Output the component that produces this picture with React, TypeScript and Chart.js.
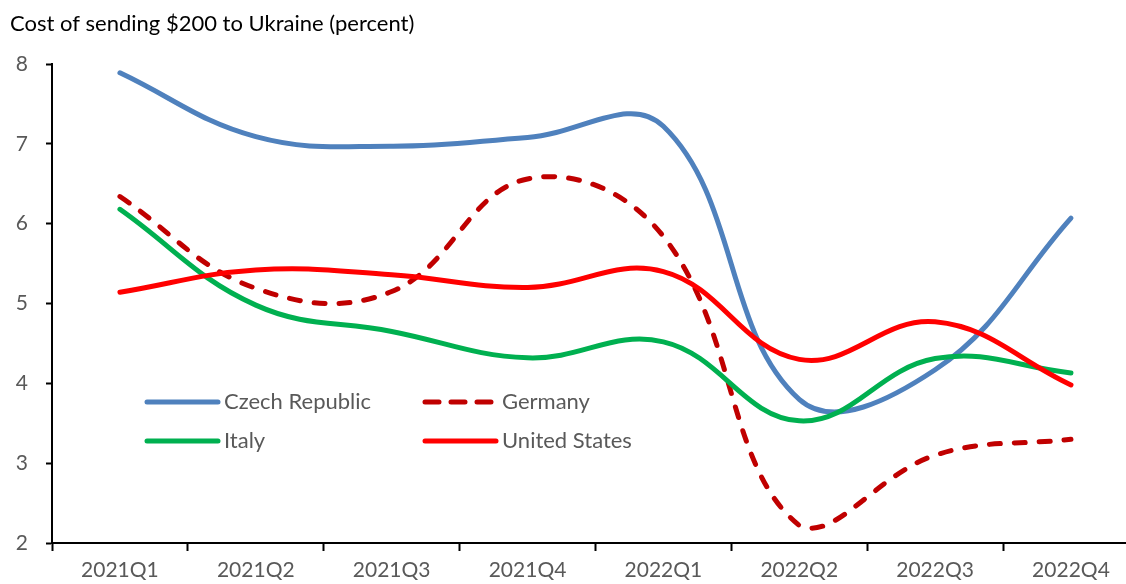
import React, { useEffect, useRef } from 'react';
import { Chart, registerables } from 'chart.js';

Chart.register(...registerables);

const title = 'Cost of sending $200 to Ukraine (percent)';
const categories = ['2021Q1', '2021Q2', '2021Q3', '2021Q4', '2022Q1', '2022Q2', '2022Q3', '2022Q4'];
const czechRepublic = [7.89, 7.09, 6.97, 7.08, 7.22, 3.8, 4.17, 6.07];
const germany = [6.34, 5.19, 5.15, 6.56, 5.84, 2.22, 3.1, 3.3];
const italy = [6.18, 4.98, 4.65, 4.32, 4.52, 3.53, 4.31, 4.13];
const unitedStates = [5.14, 5.42, 5.36, 5.2, 5.4, 4.3, 4.77, 3.98];
const yTicks = [2, 3, 4, 5, 6, 7, 8];

const FONT = 'Lato';
const TEXT_GREY = '#595959';

const toPoints = (vals: number[]) => categories.map((_, i) => ({ x: i, y: vals[i] }));

const overlayPlugin = {
  id: 'overlay',
  afterDraw(chart: any) {
    const ctx = chart.ctx;
    const area = chart.chartArea;
    ctx.save();
    // title
    ctx.fillStyle = '#000';
    ctx.font = `22px ${FONT}`;
    ctx.textBaseline = 'alphabetic';
    ctx.textAlign = 'left';
    ctx.fillText(title, 10, 31);
    // legend (2 columns inside plot)
    const colX = [area.left + 95, area.left + 373];
    const rowY = [402, 441];
    chart.data.datasets.forEach((ds: any, i: number) => {
      const x = colX[i % 2];
      const y = rowY[Math.floor(i / 2)];
      ctx.strokeStyle = ds.borderColor;
      ctx.lineWidth = 5;
      ctx.lineCap = 'round';
      ctx.setLineDash(ds.borderDash ? [14, 12] : []);
      ctx.beginPath();
      ctx.moveTo(x, y);
      ctx.lineTo(x + 71, y);
      ctx.stroke();
      ctx.setLineDash([]);
      ctx.fillStyle = TEXT_GREY;
      ctx.font = `22px ${FONT}`;
      ctx.textBaseline = 'middle';
      ctx.fillText(ds.label, x + 77, y);
    });
    ctx.restore();
  },
};

export default function App() {
  const ref = useRef<HTMLCanvasElement | null>(null);
  useEffect(() => {
    if (!ref.current) return;
    const xTicks: number[] = [];
    for (let i = -1; i <= 14; i++) xTicks.push(i / 2);
    const common = {
      borderWidth: 5,
      tension: 0.4,
      pointRadius: 0,
      borderCapStyle: 'round',
      borderJoinStyle: 'round',
    };
    const chart = new Chart(ref.current, {
      type: 'line',
      data: {
        datasets: [
          { ...common, label: 'Czech Republic', data: toPoints(czechRepublic), borderColor: '#4F81BD', order: 4 },
          {
            ...common,
            label: 'Germany',
            data: toPoints(germany),
            borderColor: '#C00000',
            borderDash: [11, 14],
            order: 3,
          },
          { ...common, label: 'Italy', data: toPoints(italy), borderColor: '#00B050', order: 2 },
          { ...common, label: 'United States', data: toPoints(unitedStates), borderColor: '#FF0000', order: 1 },
        ],
      },
      options: {
        responsive: false,
        animation: false,
        layout: { padding: { top: 64, left: 0, right: 0, bottom: 0 } },
        plugins: {
          legend: { display: false },
          title: { display: false },
          tooltip: { enabled: false },
        },
        scales: {
          x: {
            type: 'linear',
            min: -0.5,
            max: 7.405,
            afterBuildTicks: (scale: any) => {
              scale.ticks = xTicks.map((v) => ({ value: v }));
            },
            afterFit: (scale: any) => {
              scale.height = 41;
            },
            border: { display: true, color: '#000', width: 2 },
            grid: {
              drawOnChartArea: false,
              drawTicks: true,
              tickLength: 8,
              tickWidth: 2,
              color: (c: any) =>
                c.tick && Number.isInteger(c.tick.value) ? 'rgba(0,0,0,0)' : '#000',
            },
            ticks: {
              autoSkip: false,
              maxRotation: 0,
              padding: 7,
              color: TEXT_GREY,
              font: { family: FONT, size: 21 },
              callback: (v: any) => (Number.isInteger(v) ? categories[v] : ''),
            },
          },
          y: {
            min: 2,
            max: 8,
            afterBuildTicks: (scale: any) => {
              scale.ticks = yTicks.map((v) => ({ value: v }));
            },
            afterFit: (scale: any) => {
              scale.width = 52;
            },
            border: { display: true, color: '#000', width: 2 },
            grid: {
              drawOnChartArea: false,
              drawTicks: true,
              tickLength: 6,
              tickWidth: 2,
              color: '#000',
            },
            ticks: {
              padding: 18,
              color: TEXT_GREY,
              font: { family: FONT, size: 21 },
            },
          },
        },
      },
      plugins: [overlayPlugin],
    } as any);
    return () => chart.destroy();
  }, []);
  return (
    <div style={{ position: 'fixed', left: 0, top: 0, width: 1126, height: 584, background: '#fff' }}>
      <canvas ref={ref} width={1126} height={584} style={{ display: 'block' }} />
    </div>
  );
}
